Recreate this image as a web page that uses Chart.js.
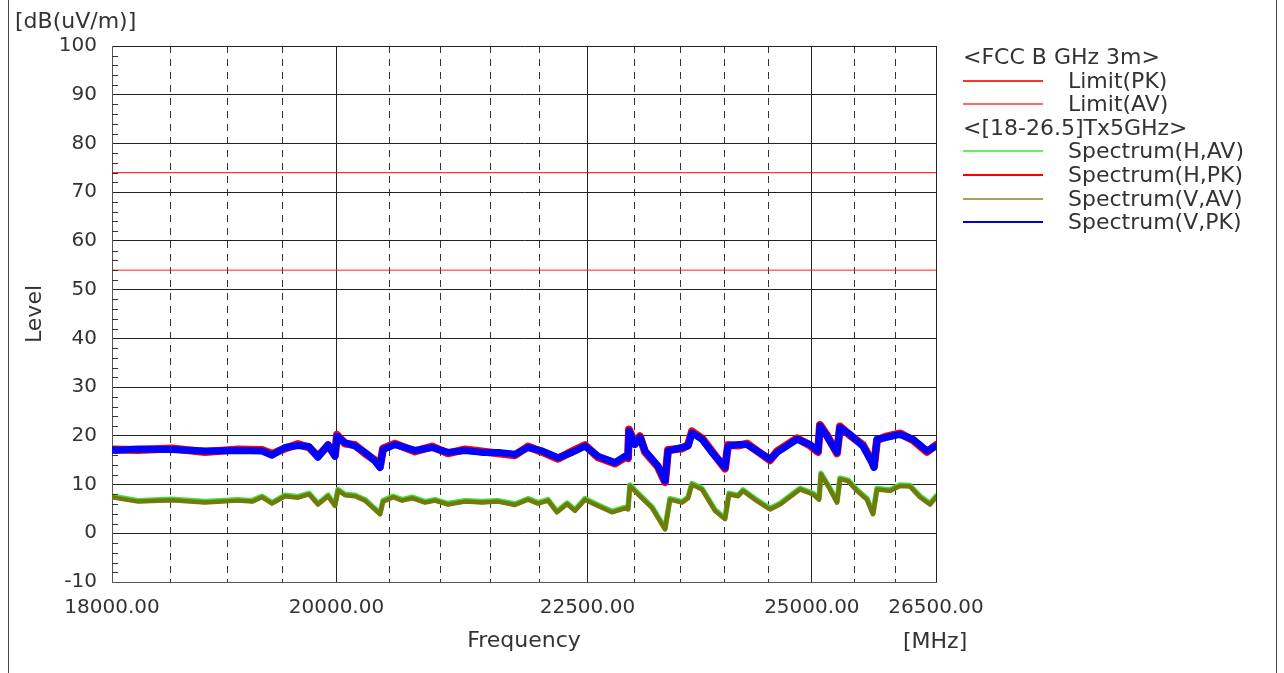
<!DOCTYPE html>
<html>
<head>
<meta charset="utf-8">
<script src="https://cdn.jsdelivr.net/npm/chart.js@4.4.1/dist/chart.umd.min.js"></script>
<style>
  body { margin: 0; background: #fff; }
  #wrap { position: relative; width: 1284px; height: 673px; font-family: "DejaVu Sans", sans-serif; color: #333; overflow: hidden; }
  #frame { position: absolute; left: 8px; top: 0; width: 1269px; height: 673px; border-left: 1px solid #444; border-right: 1px solid #444; box-sizing: border-box; }
  #chart { position: absolute; left: 0; top: 0; }
  .txt { position: absolute; font-size: 22px; line-height: 24px; white-space: nowrap; }
  .row { position: absolute; left: 963px; height: 24px; }
  .row .ln { position: absolute; left: 0; top: 11px; width: 80px; height: 2px; }
  .row .lb { position: absolute; left: 105px; top: 0; font-size: 22px; line-height: 24px; white-space: nowrap; }
  .row .hd { position: absolute; left: 0; top: 0; font-size: 22px; line-height: 24px; white-space: nowrap; }
</style>
</head>
<body>
<div id="wrap">
  <div id="frame"></div>
  <canvas id="chart" width="1284" height="673"></canvas>
  <div class="txt" style="left:15px;top:9px;">[dB(uV/m)]</div>
  <div class="txt" style="left:903px;top:629px;">[MHz]</div>
  <div id="legend"></div>
</div>
<script>
// frequencies in MHz, levels in dB(uV/m)
const pkFreq = [18000, 18221, 18514, 18803, 19097, 19313, 19404, 19523, 19642, 19744,
  19827, 19921, 19986, 20005, 20080, 20175, 20270, 20365, 20413, 20442,
  20557, 20751, 20917, 21075, 21244, 21414, 21575, 21748, 21881, 22026,
  22192, 22338, 22475, 22612, 22793, 22901, 22933, 22944, 23008, 23062,
  23117, 23258, 23335, 23368, 23522, 23588, 23632, 23743, 23855, 24001,
  24035, 24148, 24250, 24514, 24594, 24826, 24978, 25072, 25096, 25178,
  25297, 25332, 25451, 25607, 25716, 25740, 25776, 25897, 26056, 26215,
  26388, 26500];
const vPk = [17.0, 17.3, 17.2, 16.9, 17.0, 16.9, 16.0, 17.6, 18.0, 17.8,
  15.6, 18.2, 15.8, 19.9, 18.6, 17.9, 16.6, 14.8, 13.5, 17.2,
  18.2, 17.0, 17.6, 16.6, 17.0, 16.6, 16.6, 16.2, 17.6, 16.9,
  15.5, 16.6, 17.9, 15.8, 14.5, 15.8, 15.6, 21.0, 18.2, 19.7,
  16.9, 13.8, 10.7, 16.9, 17.6, 17.9, 20.6, 19.3, 16.6, 13.5,
  17.9, 18.2, 18.2, 15.2, 16.6, 19.3, 18.2, 16.9, 22.0, 19.9,
  16.6, 21.7, 20.3, 17.9, 14.5, 13.5, 19.3, 19.7, 20.3, 19.3,
  16.9, 17.9];
const hPk = [17.2, 17.1, 17.4, 16.7, 17.2, 17.1, 16.3, 17.4, 18.3, 17.6,
  15.8, 18.0, 16.0, 20.2, 18.4, 18.1, 16.4, 15.0, 13.7, 17.4,
  18.4, 16.8, 17.8, 16.4, 17.2, 16.8, 16.4, 16.0, 17.8, 16.7,
  15.3, 16.8, 18.1, 15.6, 14.3, 15.6, 15.4, 21.3, 18.4, 19.9,
  16.7, 13.6, 10.5, 17.1, 17.4, 18.1, 20.9, 19.5, 16.8, 13.3,
  18.1, 18.0, 18.4, 15.0, 16.8, 19.5, 18.0, 16.7, 22.2, 20.1,
  16.4, 21.9, 20.1, 18.1, 14.7, 13.7, 19.1, 19.9, 20.5, 19.1,
  16.7, 18.1];

const avFreq = [18000, 18221, 18514, 18803, 19097, 19223, 19313, 19404, 19523, 19642,
  19744, 19827, 19921, 19986, 20014, 20080, 20175, 20270, 20336, 20413,
  20442, 20538, 20625, 20722, 20849, 20947, 21075, 21244, 21414, 21575,
  21748, 21881, 21984, 22088, 22181, 22286, 22369, 22475, 22612, 22761,
  22901, 22933, 22954, 23041, 23193, 23335, 23389, 23522, 23588, 23632,
  23743, 23889, 24001, 24046, 24148, 24205, 24364, 24514, 24629, 24861,
  25013, 25084, 25107, 25214, 25297, 25332, 25428, 25535, 25655, 25728,
  25776, 25934, 26056, 26178, 26302, 26425, 26500];
const vAv = [7.4, 6.5, 6.8, 6.3, 6.7, 6.5, 7.4, 6.1, 7.6, 7.3,
  8.0, 5.9, 7.6, 5.6, 8.8, 7.8, 7.6, 6.7, 5.4, 3.9,
  6.5, 7.4, 6.7, 7.2, 6.3, 6.7, 5.9, 6.5, 6.3, 6.5,
  5.8, 6.9, 6.1, 6.7, 4.3, 6.0, 4.6, 6.9, 5.6, 4.3,
  5.1, 4.9, 9.7, 8.0, 5.2, 0.8, 6.9, 6.3, 7.2, 10.0,
  9.0, 4.6, 2.9, 8.0, 7.6, 8.7, 6.6, 4.9, 5.9, 9.0,
  8.0, 6.9, 12.1, 9.0, 6.3, 11.1, 10.7, 8.7, 6.9, 3.9,
  9.0, 8.7, 9.7, 9.6, 7.4, 5.9, 7.4];
const hAv = [7.6, 6.7, 7.0, 6.5, 6.9, 6.7, 7.6, 6.3, 7.8, 7.5,
  8.2, 6.1, 7.8, 5.8, 9.0, 8.0, 7.8, 6.9, 5.6, 4.1,
  6.7, 7.6, 6.9, 7.4, 6.5, 6.9, 6.1, 6.7, 6.5, 6.7,
  6.0, 7.1, 6.3, 6.9, 4.5, 6.2, 4.8, 7.1, 5.8, 4.5,
  5.3, 5.1, 9.9, 8.2, 5.4, 1.0, 7.1, 6.5, 7.4, 10.2,
  9.2, 4.8, 3.1, 8.2, 7.8, 8.9, 6.8, 5.1, 6.1, 9.2,
  8.2, 7.1, 12.3, 9.2, 6.5, 11.3, 10.9, 8.9, 7.1, 4.1,
  9.2, 8.9, 9.9, 9.8, 7.6, 6.1, 7.6];

const limitFreq = [18000, 26500];
const limitPk = [74, 74];
const limitAv = [54, 54];

const xLabelTicks = [18000, 20000, 22500, 25000, 26500];
const xDashTicks = [18500, 19000, 19500, 20500, 21000, 21500, 22000, 23000, 23500, 24000, 24500, 25500, 26000];

const pts = (xs, ys) => xs.map((x, i) => ({ x: x, y: ys[i] }));

const minorTicks = {
  id: 'minorTicks',
  afterDatasetsDraw(chart) {
    const y = chart.scales.y, left = chart.chartArea.left;
    const ctx = chart.ctx;
    ctx.save();
    ctx.strokeStyle = '#333';
    ctx.lineWidth = 1;
    ctx.beginPath();
    for (let v = -8; v < 100; v += 2) {
      if (v % 10 === 0) continue;
      const py = Math.round(y.getPixelForValue(v)) + 0.5;
      ctx.moveTo(left, py);
      ctx.lineTo(left + 6, py);
    }
    ctx.stroke();
    ctx.restore();
  }
};

const line = (label, data, color, width, order) => ({
  label: label, data: data, borderColor: color, backgroundColor: color,
  borderWidth: width, pointRadius: 0, tension: 0, order: order,
  borderJoinStyle: 'round', borderCapStyle: 'round'
});

const datasets = [
  line('Limit(PK)', pts(limitFreq, limitPk), '#ff0000', 1, 0),
  line('Limit(AV)', pts(limitFreq, limitAv), '#ff2020', 1, 0),
  line('Spectrum(H,AV)', pts(avFreq, hAv), '#44dd44', 5.5, 4),
  line('Spectrum(H,PK)', pts(pkFreq, hPk), '#ff0000', 8, 3),
  line('Spectrum(V,AV)', pts(avFreq, vAv), '#717a0a', 4.5, 2),
  line('Spectrum(V,PK)', pts(pkFreq, vPk), '#0000ff', 7, 1)
];

new Chart(document.getElementById('chart'), {
  type: 'line',
  data: { datasets: datasets },
  plugins: [minorTicks],
  options: {
    responsive: false,
    animation: false,
    layout: { padding: { left: 10, top: 46, right: 348, bottom: 0 } },
    plugins: { legend: { display: false }, tooltip: { enabled: false } },
    scales: {
      x: {
        type: 'logarithmic', min: 18000, max: 26500, position: 'bottom',
        afterBuildTicks: s => { s.ticks = xLabelTicks.map(v => ({ value: v })); },
        afterFit: s => { s.height = 91; },
        ticks: {
          autoSkip: false, maxRotation: 0, padding: 14, color: '#333',
          font: { family: 'DejaVu Sans', size: 20 },
          callback: v => Number(v).toFixed(2)
        },
        grid: { color: '#222', lineWidth: 1, drawTicks: false },
        border: { color: '#555', width: 1 },
        title: {
          display: true, text: 'Frequency', color: '#333',
          font: { family: 'DejaVu Sans', size: 22 }, padding: { top: 0, bottom: 19 }
        }
      },
      x2: {
        type: 'logarithmic', min: 18000, max: 26500, position: 'bottom',
        afterBuildTicks: s => { s.ticks = xDashTicks.map(v => ({ value: v })); },
        afterFit: s => { s.height = 0; },
        ticks: { display: false },
        grid: { color: '#333', lineWidth: 1, drawTicks: false },
        border: { display: false, dash: [7, 6] }
      },
      y: {
        min: -10, max: 100,
        afterFit: s => { s.width = 102; },
        ticks: {
          stepSize: 10, padding: 15, color: '#333',
          font: { family: 'DejaVu Sans', size: 20 }
        },
        grid: { color: '#222', lineWidth: 1, drawTicks: false },
        border: { color: '#555', width: 1 },
        title: {
          display: true, text: 'Level', color: '#333',
          font: { family: 'DejaVu Sans', size: 22 }, padding: { top: 12, bottom: 0 }
        }
      }
    }
  }
});

// legend rows: headers and series
const legendRows = [
  { header: '<FCC B GHz 3m>' },
  { ds: 0, lineColor: '#ff3030' },
  { ds: 1, lineColor: '#ff6a6a' },
  { header: '<[18-26.5]Tx5GHz>' },
  { ds: 2, lineColor: '#66ee66' },
  { ds: 3, lineColor: '#ff0000' },
  { ds: 4, lineColor: '#a8a060' },
  { ds: 5, lineColor: '#0000dd' }
];
const legend = document.getElementById('legend');
legendRows.forEach((r, i) => {
  const row = document.createElement('div');
  row.className = 'row';
  row.style.top = Math.round(45 + i * 23.6) + 'px';
  if (r.header) {
    const h = document.createElement('div');
    h.className = 'hd';
    h.textContent = r.header;
    row.appendChild(h);
  } else {
    const l = document.createElement('div');
    l.className = 'ln';
    l.style.background = r.lineColor;
    const t = document.createElement('div');
    t.className = 'lb';
    t.textContent = datasets[r.ds].label;
    row.appendChild(l);
    row.appendChild(t);
  }
  legend.appendChild(row);
});
</script>
</body>
</html>
